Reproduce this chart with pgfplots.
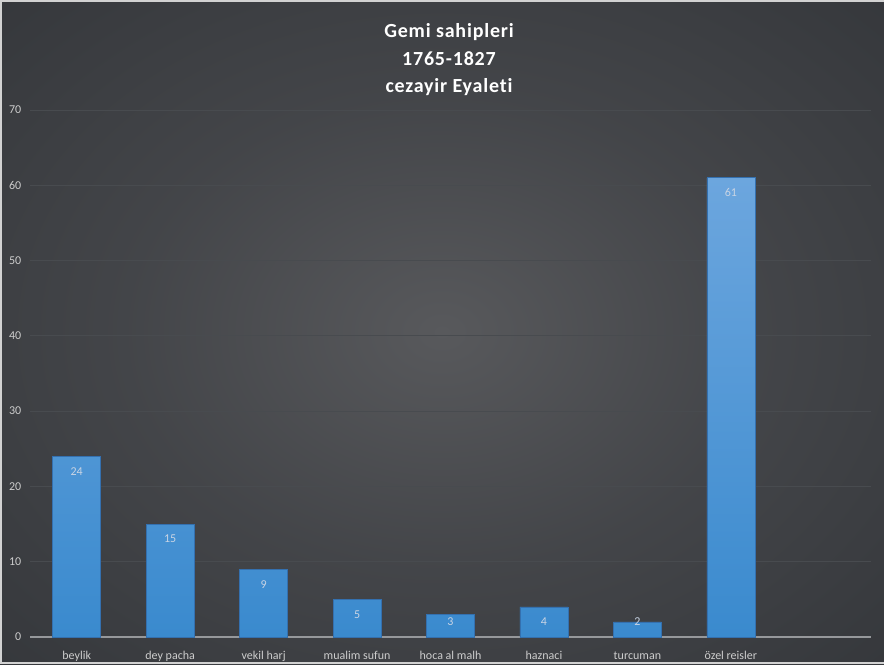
\documentclass[border=0pt]{standalone}
\usepackage{fontspec}
\setmainfont{Carlito}[Ligatures=NoCommon]
\newfontfamily\titlefont[LetterSpace=4,Ligatures=NoCommon]{Carlito}
\usepackage{pgfplots}
\pgfplotsset{compat=1.18}
\definecolor{bgin}{RGB}{88,89,92}
\definecolor{bgmid}{RGB}{62,64,68}
\definecolor{bgout}{RGB}{36,39,43}
\definecolor{gridc}{RGB}{72,75,79}
\definecolor{axisc}{RGB}{150,152,155}
\definecolor{tickc}{RGB}{205,205,205}
\definecolor{bartop}{RGB}{108,166,222}
\definecolor{barbot}{RGB}{58,138,206}
\definecolor{baredge}{RGB}{52,112,175}
\definecolor{labc}{RGB}{200,212,228}
\definecolor{framec}{RGB}{210,210,210}
\pgfdeclareradialshading{bgshade}{\pgfpoint{0bp}{0bp}}{%
  color(0bp)=(bgin); color(18bp)=(bgmid!80!bgin); color(38bp)=(bgmid!60!bgout);
  color(55bp)=(bgout!85!bgmid); color(72bp)=(bgout)}
\begin{document}
\begin{tikzpicture}
\useasboundingbox (-22.5pt,-20.25pt) rectangle (640.5pt,477.75pt);
\shade[shading=bgshade] (-22.5pt,-20.25pt) rectangle (640.5pt,477.75pt);
\draw[framec, line width=1.5pt] (640.5pt,477pt) -- (-21.75pt,477pt) -- (-21.75pt,-19.5pt) -- (640.5pt,-19.5pt);
\begin{axis}[
  at={(0,0)}, anchor=south west,
  scale only axis, width=630.75pt, height=395.25pt,
  xmin=-0.5, xmax=8.5, ymin=0, ymax=70,
  axis line style={draw=none},
  major tick length=0pt,
  ytick={0,10,...,70},
  xtick={0,...,7},
  xticklabels={beylik,dey pacha,vekil harj,mualim sufun,hoca al malh,haznaci,turcuman,özel reisler},
  ymajorgrids,
  grid style={gridc, line width=0.75pt},
  extra y ticks={0},
  extra y tick labels={},
  extra y tick style={grid style={axisc, line width=1pt}},
  /pgf/number format/assume math mode=true,
  yticklabel style={font=\fontsize{9}{10}\selectfont, text=tickc, anchor=east, xshift=-3pt},
  xticklabel style={font=\fontsize{9}{10}\selectfont, text=tickc, anchor=base, yshift=-16.5pt},
  clip=false,
]
\addplot[ybar, bar width=36pt, bar shift=0pt, draw=baredge, line width=0.4pt,
  top color=bartop, bottom color=barbot]
  coordinates {(0,24) (1,15) (2,9) (3,5) (4,3) (5,4) (6,2) (7,61)};
\addplot[draw=none, mark=none, nodes near coords,
  point meta=explicit symbolic,
  nodes near coords style={anchor=center, font=\fontsize{9}{10}\selectfont, text=labc, inner sep=0pt}]
  table[meta=v] {
  x y v
  0 22 24
  1 13 15
  2 7 9
  3 3 5
  4 2 3
  5 2 4
  6 2 2
  7 59 61
  };
\end{axis}
\node[anchor=base, text=white, font=\titlefont\bfseries\fontsize{15}{18}\selectfont] at (314.25pt,449.5pt) {Gemi sahipleri};
\node[anchor=base, text=white, font=\titlefont\bfseries\fontsize{15}{18}\selectfont] at (314.25pt,428.5pt) {1765-1827};
\node[anchor=base, text=white, font=\titlefont\bfseries\fontsize{15}{18}\selectfont] at (314.25pt,408.25pt) {cezayir Eyaleti};
\end{tikzpicture}
\end{document}
